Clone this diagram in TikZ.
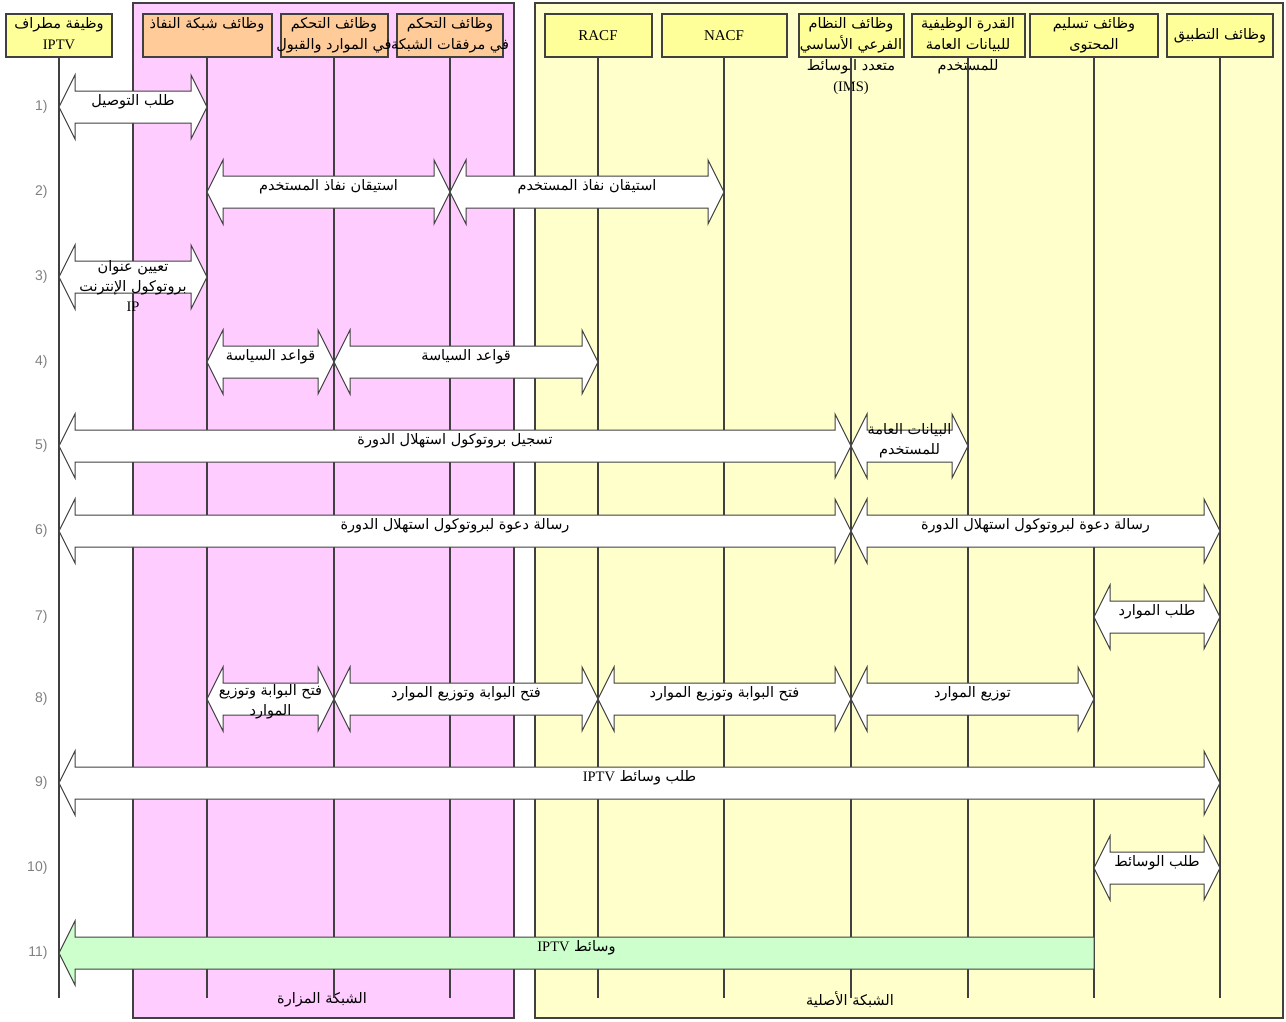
\documentclass[tikz,border=0pt]{standalone}
\usepackage{fontspec}
\setmainfont{Liberation Serif}
\newfontfamily\arabicfont[Script=Arabic]{DejaVu Sans}
\newfontfamily\numfont{Liberation Sans}
\TeXXeTstate=1
\usetikzlibrary{calc}

\definecolor{visitpink}{HTML}{FFCCFF}
\definecolor{homeyel}{HTML}{FFFFCC}
\definecolor{boxyel}{HTML}{FFFF99}
\definecolor{boxorange}{HTML}{FFCC99}
\definecolor{mediagreen}{HTML}{CCFFCC}
\definecolor{lineg}{HTML}{404040}

\newcommand\artxt[1]{\beginR #1\endR}
\newcommand\lat[1]{\beginL{\rmfamily #1}\endL}

\tikzset{
  zone/.style={draw=lineg, line width=1.2pt},
  hdr/.style={draw=lineg, line width=2pt, minimum height=43pt, inner sep=0pt,
    font=\arabicfont\fontsize{14.5pt}{20pt}\selectfont},
  hdrtxt/.style={anchor=north, align=center, inner sep=1pt, yshift=-3pt,
    font=\arabicfont\fontsize{14.5pt}{21pt}\selectfont},
  life/.style={draw=lineg, line width=1.5pt},
  msgbox/.style={draw=lineg, line width=1pt, fill=white},
  msgtxt/.style={align=center, inner sep=0pt, yshift=5pt,
    font=\arabicfont\fontsize{14.5pt}{20pt}\selectfont},
  rowlbl/.style={anchor=east, text=gray, font=\numfont\fontsize{14pt}{16pt}\selectfont},
  zonelbl/.style={font=\arabicfont\fontsize{14.5pt}{16pt}\selectfont}
}

% pijl met twee punten tussen twee levenslijnen
\newcommand\sendmsg[5][]{%
  \draw[msgbox] let \p1=(#2 |- #4), \p2=(#3 |- #4) in
    (\p1) -- ++(16pt,32pt) -- ++(0pt,-16pt) -- ++(\x2-\x1-32pt,0pt)
    -- ++(0pt,16pt) -- (\p2) -- ++(-16pt,-32pt) -- ++(0pt,16pt)
    -- ++(\x1-\x2+32pt,0pt) -- ++(0pt,-16pt) -- cycle
    ({(\x1+\x2)/2},\y1) node[msgtxt,#1] {#5};}
% pijl met een punt links
\newcommand\mediamsg[4]{%
  \draw[msgbox, fill=mediagreen] let \p1=(#1 |- #3), \p2=(#2 |- #3) in
    (\p1) -- ++(16pt,32pt) -- ++(0pt,-16pt) -- ++(\x2-\x1-16pt,0pt)
    -- ++(0pt,-32pt) -- ++(\x1-\x2+16pt,0pt) -- ++(0pt,-16pt) -- cycle
    ({(\x1+\x2)/2},\y1) node[msgtxt] {#4};}

\begin{document}
\begin{tikzpicture}[x=1pt, y=-1pt]
  \useasboundingbox (0,0) rectangle (1286,1021);

  % netwerken
  \draw[zone, fill=visitpink] (133,3) rectangle (514,1018);
  \draw[zone, fill=homeyel] (535,3) rectangle (1283,1018);
  \node[zonelbl] (vlbl) at (322,1000) {\artxt{الشبكة المزارة}};
  \node[zonelbl] (hlbl) at (850,1000) {\artxt{الشبكة الأصلية}};

  % functies
  \node[hdr, fill=boxyel, minimum width=106pt] (ipt) at (59,35.5) {};
  \node[hdr, fill=boxorange, minimum width=129pt] (anf) at (207,35.5) {};
  \node[hdr, fill=boxorange, minimum width=107pt] (vracf) at (334,35.5) {};
  \node[hdr, fill=boxorange, minimum width=106pt] (vnacf) at (450,35.5) {};
  \node[hdr, fill=boxyel, minimum width=107pt, font=\rmfamily\fontsize{15pt}{17pt}\selectfont] (hracf) at (598,35.5) {RACF};
  \node[hdr, fill=boxyel, minimum width=125pt, font=\rmfamily\fontsize{15pt}{17pt}\selectfont] (hnacf) at (724,35.5) {NACF};
  \node[hdr, fill=boxyel, minimum width=105pt] (ims) at (851,35.5) {};
  \node[hdr, fill=boxyel, minimum width=113pt] (gup) at (968,35.5) {};
  \node[hdr, fill=boxyel, minimum width=128pt] (cdf) at (1094,35.5) {};
  \node[hdr, fill=boxyel, minimum width=106pt] (apf) at (1220,35.5) {\artxt{وظائف التطبيق}};

  \node[hdrtxt] (ipt-t) at (ipt.north) {\artxt{وظيفة مطراف}\\\lat{IPTV}};
  \node[hdrtxt] (anf-t) at (anf.north) {\artxt{وظائف شبكة النفاذ}};
  \node[hdrtxt] (vracf-t) at (vracf.north) {\artxt{وظائف التحكم}\\\artxt{في الموارد والقبول}};
  \node[hdrtxt] (vnacf-t) at (vnacf.north) {\artxt{وظائف التحكم}\\\artxt{في مرفقات الشبكة}};
  \node[hdrtxt] (ims-t) at (ims.north) {\artxt{وظائف النظام}\\\artxt{الفرعي الأساسي}\\\artxt{متعدد الوسائط}\\\lat{(IMS)}};
  \node[hdrtxt] (gup-t) at (gup.north) {\artxt{القدرة الوظيفية}\\\artxt{للبيانات العامة}\\\artxt{للمستخدم}};
  \node[hdrtxt] (cdf-t) at (cdf.north) {\artxt{وظائف تسليم}\\\artxt{المحتوى}};

  \coordinate (bot) at (0,998);
  \foreach \b in {ipt,anf,vracf,vnacf,hracf,hnacf,ims,gup,cdf,apf}
    \draw[life] (\b.south) -- (\b |- bot);

  % stappen
  \foreach \n/\y in {1/107,2/192,3/277,4/362,5/446,6/531,7/617,8/699,9/783,10/868,11/953}
    \node[rowlbl] (r\n) at (51,\y) {\n)};

  \sendmsg{ipt}{anf}{r1}{\artxt{طلب التوصيل}}
  \sendmsg{anf}{vnacf}{r2}{\artxt{استيقان نفاذ المستخدم}}
  \sendmsg{vnacf}{hnacf}{r2}{\artxt{استيقان نفاذ المستخدم}}
  \sendmsg[yshift=-14pt]{ipt}{anf}{r3}{\artxt{تعيين عنوان}\\\artxt{بروتوكول الإنترنت}\\\lat{IP}}
  \sendmsg{anf}{vracf}{r4}{\artxt{قواعد السياسة}}
  \sendmsg{vracf}{hracf}{r4}{\artxt{قواعد السياسة}}
  \sendmsg{ipt}{ims}{r5}{\artxt{تسجيل بروتوكول استهلال الدورة}}
  \sendmsg{ims}{gup}{r5}{\artxt{البيانات العامة}\\\artxt{للمستخدم}}
  \sendmsg{ipt}{ims}{r6}{\artxt{رسالة دعوة لبروتوكول استهلال الدورة}}
  \sendmsg{ims}{apf}{r6}{\artxt{رسالة دعوة لبروتوكول استهلال الدورة}}
  \sendmsg{cdf}{apf}{r7}{\artxt{طلب الموارد}}
  \sendmsg[yshift=-8pt]{anf}{vracf}{r8}{\artxt{فتح البوابة وتوزيع}\\\artxt{الموارد}}
  \sendmsg{vracf}{hracf}{r8}{\artxt{فتح البوابة وتوزيع الموارد}}
  \sendmsg{hracf}{ims}{r8}{\artxt{فتح البوابة وتوزيع الموارد}}
  \sendmsg{ims}{cdf}{r8}{\artxt{توزيع الموارد}}
  \sendmsg{ipt}{apf}{r9}{\artxt{طلب وسائط \lat{IPTV}}}
  \sendmsg{cdf}{apf}{r10}{\artxt{طلب الوسائط}}
  \mediamsg{ipt}{cdf}{r11}{\artxt{وسائط \lat{IPTV}}}
\end{tikzpicture}
\end{document}
